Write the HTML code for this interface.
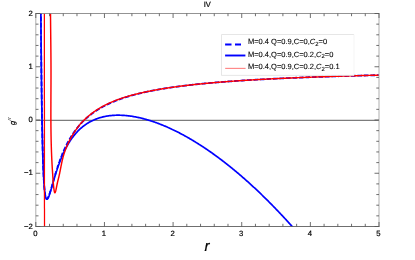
<!DOCTYPE html>
<html><head><meta charset="utf-8"><style>
html,body{margin:0;padding:0;background:#fff;}
svg{display:block;font-family:"Liberation Sans",sans-serif;text-rendering:geometricPrecision;}
</style></head><body>
<svg width="415" height="260" viewBox="0 0 415 260">
<rect width="415" height="260" fill="#fff"/>
<defs><filter id="gs" filterUnits="userSpaceOnUse" x="0" y="0" width="415" height="260" color-interpolation-filters="sRGB"><feOffset dx="0" dy="0"/></filter><clipPath id="c"><rect x="35.8" y="13.5" width="343.2" height="213.0"/></clipPath></defs>
<line x1="35.8" y1="120.3" x2="379.0" y2="120.3" stroke="#484848" stroke-width="0.9"/>
<g clip-path="url(#c)" fill="none" stroke-linejoin="round">
<path d="M40.66,-16.01 L40.72,-7.24 L40.78,1.14 L40.83,9.17 L40.89,16.86 L40.95,24.22 L41.00,31.28 L41.06,38.04 L41.12,44.53 L41.17,50.75 L41.23,56.71 L41.29,62.43 L41.34,67.92 L41.40,73.19 L41.46,78.25 L41.51,83.11 L41.57,87.78 L41.63,92.26 L41.68,96.57 L41.74,100.70 L41.80,104.68 L41.85,108.50 L41.91,112.17 L41.97,115.71 L42.02,119.10 L42.08,122.37 L42.14,125.51 L42.19,128.53 L42.25,131.44 L42.31,134.23 L42.36,136.92 L42.42,139.51 L42.48,142.00 L42.53,144.40 L42.59,146.70 L42.65,148.92 L42.71,151.06 L42.76,153.11 L42.82,155.09 L42.88,157.00 L42.93,158.83 L42.99,160.59 L43.05,162.29 L43.10,163.92 L43.16,165.49 L43.22,167.00 L43.27,168.46 L43.33,169.86 L43.39,171.21 L43.44,172.50 L43.50,173.75 L43.56,174.95 L43.61,176.10 L43.67,177.21 L43.73,178.27 L43.78,179.30 L43.84,180.28 L43.90,181.23 L43.95,182.13 L44.01,183.01 L44.07,183.84 L44.12,184.65 L44.18,185.42 L44.24,186.16 L44.29,186.87 L44.35,187.55 L44.41,188.20 L44.47,188.83 L44.52,189.42 L44.58,190.00 L44.64,190.54 L44.69,191.07 L44.75,191.57 L44.81,192.05 L44.86,192.50 L44.92,192.94 L44.98,193.35 L45.03,193.75 L45.09,194.12 L45.15,194.48 L45.20,194.82 L45.26,195.14 L45.32,195.45 L45.37,195.74 L45.43,196.01 L45.49,196.27 L45.54,196.51 L45.60,196.74 L45.66,196.96 L45.71,197.16 L45.77,197.35 L45.83,197.53 L45.88,197.69 L45.94,197.84 L46.00,197.98 L46.05,198.11 L46.11,198.23 L46.17,198.34 L46.23,198.44 L46.28,198.53 L46.34,198.60 L46.40,198.67 L46.45,198.73 L46.51,198.79 L46.57,198.83 L46.62,198.87 L46.68,198.89 L46.74,198.91 L46.79,198.92 L46.85,198.93 L46.91,198.93 L46.96,198.92 L47.02,198.90 L47.08,198.88 L47.13,198.85 L47.19,198.82 L47.25,198.78 L47.30,198.73 L47.36,198.68 L47.42,198.63 L47.47,198.57 L47.53,198.50 L47.59,198.43 L47.64,198.35 L47.70,198.27 L47.76,198.19 L47.81,198.10 L47.87,198.00 L47.93,197.91 L47.98,197.80 L48.04,197.70 L48.10,197.59 L48.16,197.48 L48.21,197.36 L48.27,197.24 L48.33,197.12 L48.38,197.00 L48.44,196.87 L48.50,196.74 L48.55,196.60 L48.61,196.47 L48.67,196.33 L48.72,196.19 L48.78,196.04 L48.84,195.89 L48.89,195.75 L48.95,195.59 L49.01,195.44 L49.06,195.28 L49.12,195.13 L49.18,194.97 L49.23,194.81 L49.29,194.64 L49.35,194.48 L49.40,194.31 L49.46,194.14 L49.52,193.97 L49.57,193.80 L49.63,193.63 L49.69,193.45 L49.74,193.28 L49.80,193.10 L49.86,192.92 L49.92,192.74 L49.97,192.56 L50.03,192.38 L50.09,192.20 L50.14,192.01 L50.20,191.83 L50.26,191.64 L50.31,191.45 L50.37,191.27 L50.43,191.08 L50.48,190.89 L50.54,190.70 L50.60,190.51 L50.65,190.31 L50.71,190.12 L50.77,189.93 L50.82,189.73 L50.88,189.54 L50.94,189.35 L50.99,189.15 L51.05,188.95 L51.11,188.76 L51.16,188.56 L51.22,188.36 L51.28,188.17 L51.33,187.97 L51.39,187.77 L51.45,187.57 L51.50,187.37 L51.56,187.17 L51.62,186.97 L51.67,186.77 L51.73,186.57 L51.79,186.37 L51.85,186.17 L51.90,185.97 L51.96,185.77 L52.02,185.57 L52.07,185.37 L52.13,185.17 L52.19,184.97 L52.24,184.77 L52.30,184.57 L52.36,184.37 L52.41,184.17 L52.47,183.97 L52.53,183.76 L52.58,183.56 L52.64,183.36 L52.70,183.16 L52.75,182.96 L52.81,182.76 L52.87,182.56 L52.92,182.36 L52.98,182.16 L53.04,181.96 L53.09,181.76 L53.15,181.56 L53.21,181.36 L53.26,181.16 L53.32,180.96 L53.38,180.76 L53.43,180.56 L53.49,180.36 L53.55,180.16 L53.61,179.97 L53.66,179.77 L53.72,179.57 L53.78,179.37 L53.83,179.17 L53.89,178.98 L53.95,178.78 L54.00,178.58 L54.06,178.39 L54.12,178.19 L54.17,177.99 L54.23,177.80 L54.29,177.60 L54.34,177.41 L54.40,177.21 L54.46,177.02 L54.51,176.83 L54.57,176.63 L54.63,176.44 L54.68,176.25 L54.74,176.05 L54.80,175.86 L54.85,175.67 L54.91,175.48 L54.97,175.29 L55.02,175.10 L55.08,174.90 L55.14,174.71 L55.19,174.52 L55.25,174.34 L55.31,174.15 L55.36,173.96 L55.42,173.77 L55.48,173.58 L55.54,173.39 L55.59,173.21 L55.65,173.02 L55.71,172.83 L55.76,172.65 L55.82,172.46 L55.88,172.28 L55.93,172.09 L55.99,171.91 L56.05,171.72 L56.10,171.54 L56.16,171.36 L56.22,171.17 L56.27,170.99 L56.33,170.81 L56.39,170.63 L56.44,170.45 L56.50,170.27 L56.56,170.09 L56.61,169.91 L56.67,169.73 L56.73,169.55 L56.78,169.37 L56.84,169.19 L56.90,169.01 L56.95,168.84 L57.01,168.66 L57.07,168.48 L57.12,168.31 L57.18,168.13 L57.24,167.96 L57.30,167.78 L57.35,167.61 L57.41,167.44 L57.47,167.26 L57.52,167.09 L57.58,166.92 L57.64,166.75 L57.69,166.57 L57.75,166.40 L57.81,166.23 L57.86,166.06 L57.92,165.89 L57.98,165.72 L58.03,165.55 L58.09,165.38 L58.15,165.22 L58.20,165.05 L58.26,164.88 L58.32,164.71 L58.37,164.55 L58.43,164.38 L58.49,164.22 L58.54,164.05 L58.60,163.89 L58.66,163.72 L58.71,163.56 L58.77,163.40 L58.83,163.23 L58.88,163.07 L58.94,162.91 L59.00,162.75 L59.06,162.59 L59.11,162.43 L59.17,162.26 L59.23,162.11 L59.28,161.95 L59.34,161.79 L59.40,161.63 L59.45,161.47 L59.51,161.31 L59.57,161.15 L59.62,161.00 L59.68,160.84 L59.74,160.69 L59.79,160.53 L59.85,160.37 L59.91,160.22 L59.96,160.07 L60.02,159.91 L60.08,159.76 L60.13,159.60 L60.19,159.45 L60.25,159.30 L60.30,159.15 L60.36,159.00 L60.42,158.85 L60.47,158.69 L60.53,158.54 L60.59,158.39 L60.64,158.25 L60.70,158.10 L60.76,157.95 L60.81,157.80 L60.87,157.65 L60.93,157.50 L60.99,157.36 L61.04,157.21 L61.10,157.06 L61.16,156.92 L61.21,156.77 L61.27,156.63 L61.33,156.48 L61.38,156.34 L61.44,156.20 L61.50,156.05 L61.55,155.91 L61.61,155.77 L61.67,155.62 L61.72,155.48 L61.78,155.34 L61.84,155.20 L61.89,155.06 L61.95,154.92 L62.01,154.78 L62.06,154.64 L62.12,154.50 L62.18,154.36 L62.23,154.22 L62.29,154.09 L62.35,153.95 L62.40,153.81 L62.46,153.67 L62.52,153.54 L62.57,153.40 L62.63,153.27 L62.69,153.13 L62.75,153.00 L62.80,152.86 L62.86,152.73 L62.92,152.59 L62.97,152.46 L63.03,152.33 L63.09,152.19 L63.14,152.06 L63.20,151.93 L63.26,151.80 L63.78,150.59 L64.31,149.42 L64.84,148.27 L65.36,147.15 L65.89,146.06 L66.42,145.00 L66.95,143.96 L67.47,142.95 L68.00,141.96 L68.53,141.00 L69.05,140.06 L69.58,139.14 L70.11,138.24 L70.64,137.36 L71.16,136.51 L71.69,135.67 L72.22,134.85 L72.74,134.05 L73.27,133.27 L73.80,132.50 L74.33,131.75 L74.85,131.02 L75.38,130.30 L75.91,129.60 L76.43,128.92 L76.96,128.24 L77.49,127.59 L78.02,126.94 L78.54,126.31 L79.07,125.69 L79.60,125.08 L80.12,124.49 L80.65,123.91 L81.18,123.33 L81.71,122.77 L82.23,122.22 L82.76,121.68 L83.29,121.16 L83.81,120.64 L84.34,120.13 L84.87,119.63 L85.39,119.13 L85.92,118.65 L86.45,118.18 L86.98,117.71 L87.50,117.26 L88.03,116.81 L88.56,116.36 L89.08,115.93 L89.61,115.50 L90.14,115.08 L90.67,114.67 L91.19,114.27 L91.72,113.87 L92.25,113.48 L92.77,113.09 L93.30,112.71 L93.83,112.34 L94.36,111.97 L94.88,111.61 L95.41,111.25 L95.94,110.90 L96.46,110.56 L96.99,110.22 L97.52,109.88 L98.05,109.55 L98.57,109.23 L99.10,108.91 L99.63,108.59 L100.15,108.28 L100.68,107.98 L101.21,107.67 L101.74,107.38 L102.26,107.08 L102.79,106.80 L103.32,106.51 L103.84,106.23 L104.37,105.95 L104.90,105.68 L105.43,105.41 L105.95,105.15 L106.48,104.88 L107.01,104.62 L107.53,104.37 L108.06,104.12 L108.59,103.87 L109.12,103.62 L109.64,103.38 L110.17,103.14 L110.70,102.91 L111.22,102.68 L111.75,102.45 L112.28,102.22 L112.81,102.00 L113.33,101.77 L113.86,101.56 L114.39,101.34 L114.91,101.13 L115.44,100.92 L115.97,100.71 L116.49,100.50 L117.02,100.30 L117.55,100.10 L118.08,99.90 L118.60,99.70 L119.13,99.51 L119.66,99.32 L120.18,99.13 L120.71,98.94 L121.24,98.76 L121.77,98.58 L122.29,98.40 L122.82,98.22 L123.35,98.04 L123.87,97.87 L124.40,97.69 L124.93,97.52 L125.46,97.35 L125.98,97.19 L126.51,97.02 L127.04,96.86 L127.56,96.69 L128.09,96.53 L128.62,96.38 L129.15,96.22 L129.67,96.06 L130.20,95.91 L130.73,95.76 L131.25,95.61 L131.78,95.46 L132.31,95.31 L132.84,95.17 L133.36,95.02 L133.89,94.88 L134.42,94.74 L134.94,94.60 L135.47,94.46 L136.00,94.32 L136.53,94.19 L137.05,94.05 L137.58,93.92 L138.11,93.79 L138.63,93.66 L139.16,93.53 L139.69,93.40 L140.22,93.27 L140.74,93.15 L141.27,93.02 L141.80,92.90 L142.32,92.77 L142.85,92.65 L143.38,92.53 L143.91,92.41 L144.43,92.30 L144.96,92.18 L145.49,92.06 L146.01,91.95 L146.54,91.84 L147.07,91.72 L147.59,91.61 L148.12,91.50 L148.65,91.39 L149.18,91.28 L149.70,91.17 L150.23,91.07 L150.76,90.96 L151.28,90.86 L151.81,90.75 L152.34,90.65 L152.87,90.55 L153.39,90.45 L153.92,90.35 L154.45,90.25 L154.97,90.15 L155.50,90.05 L156.03,89.95 L156.56,89.86 L157.08,89.76 L157.61,89.67 L158.14,89.57 L158.66,89.48 L159.19,89.39 L159.72,89.29 L160.25,89.20 L160.77,89.11 L161.30,89.02 L161.83,88.93 L162.35,88.85 L162.88,88.76 L163.41,88.67 L163.94,88.59 L164.46,88.50 L164.99,88.41 L165.52,88.33 L166.04,88.25 L166.57,88.16 L167.10,88.08 L167.63,88.00 L168.15,87.92 L168.68,87.84 L169.21,87.76 L169.73,87.68 L170.26,87.60 L170.79,87.52 L171.32,87.45 L171.84,87.37 L172.37,87.29 L172.90,87.22 L173.42,87.14 L173.95,87.07 L174.48,86.99 L175.01,86.92 L175.53,86.85 L176.06,86.78 L176.59,86.70 L177.11,86.63 L177.64,86.56 L178.17,86.49 L178.69,86.42 L179.22,86.35 L179.75,86.28 L180.28,86.21 L180.80,86.15 L181.33,86.08 L181.86,86.01 L182.38,85.95 L182.91,85.88 L183.44,85.81 L183.97,85.75 L184.49,85.68 L185.02,85.62 L185.55,85.56 L186.07,85.49 L186.60,85.43 L187.13,85.37 L187.66,85.30 L188.18,85.24 L188.71,85.18 L189.24,85.12 L189.76,85.06 L190.29,85.00 L190.82,84.94 L191.35,84.88 L191.87,84.82 L192.40,84.76 L192.93,84.70 L193.45,84.65 L193.98,84.59 L194.51,84.53 L195.04,84.48 L195.56,84.42 L196.09,84.36 L196.62,84.31 L197.14,84.25 L197.67,84.20 L198.20,84.14 L198.73,84.09 L199.25,84.03 L199.78,83.98 L200.31,83.93 L200.83,83.87 L201.36,83.82 L201.89,83.77 L202.42,83.72 L202.94,83.67 L203.47,83.61 L204.00,83.56 L204.52,83.51 L205.05,83.46 L205.58,83.41 L206.11,83.36 L206.63,83.31 L207.16,83.26 L207.69,83.21 L208.21,83.17 L208.74,83.12 L209.27,83.07 L209.79,83.02 L210.32,82.97 L210.85,82.93 L211.38,82.88 L211.90,82.83 L212.43,82.79 L212.96,82.74 L213.48,82.69 L214.01,82.65 L214.54,82.60 L215.07,82.56 L215.59,82.51 L216.12,82.47 L216.65,82.42 L217.17,82.38 L217.70,82.34 L218.23,82.29 L218.76,82.25 L219.28,82.21 L219.81,82.16 L220.34,82.12 L220.86,82.08 L221.39,82.04 L221.92,81.99 L222.45,81.95 L222.97,81.91 L223.50,81.87 L224.03,81.83 L224.55,81.79 L225.08,81.75 L225.61,81.71 L226.14,81.67 L226.66,81.63 L227.19,81.59 L227.72,81.55 L228.24,81.51 L228.77,81.47 L229.30,81.43 L229.83,81.39 L230.35,81.35 L230.88,81.31 L231.41,81.28 L231.93,81.24 L232.46,81.20 L232.99,81.16 L233.52,81.13 L234.04,81.09 L234.57,81.05 L235.10,81.01 L235.62,80.98 L236.15,80.94 L236.68,80.91 L237.21,80.87 L237.73,80.83 L238.26,80.80 L238.79,80.76 L239.31,80.73 L239.84,80.69 L240.37,80.66 L240.89,80.62 L241.42,80.59 L241.95,80.55 L242.48,80.52 L243.00,80.49 L243.53,80.45 L244.06,80.42 L244.58,80.38 L245.11,80.35 L245.64,80.32 L246.17,80.28 L246.69,80.25 L247.22,80.22 L247.75,80.19 L248.27,80.15 L248.80,80.12 L249.33,80.09 L249.86,80.06 L250.38,80.03 L250.91,79.99 L251.44,79.96 L251.96,79.93 L252.49,79.90 L253.02,79.87 L253.55,79.84 L254.07,79.81 L254.60,79.78 L255.13,79.75 L255.65,79.72 L256.18,79.69 L256.71,79.66 L257.24,79.63 L257.76,79.60 L258.29,79.57 L258.82,79.54 L259.34,79.51 L259.87,79.48 L260.40,79.45 L260.93,79.42 L261.45,79.39 L261.98,79.36 L262.51,79.33 L263.03,79.30 L263.56,79.28 L264.09,79.25 L264.62,79.22 L265.14,79.19 L265.67,79.16 L266.20,79.14 L266.72,79.11 L267.25,79.08 L267.78,79.05 L268.31,79.03 L268.83,79.00 L269.36,78.97 L269.89,78.95 L270.41,78.92 L270.94,78.89 L271.47,78.87 L271.99,78.84 L272.52,78.81 L273.05,78.79 L273.58,78.76 L274.10,78.74 L274.63,78.71 L275.16,78.68 L275.68,78.66 L276.21,78.63 L276.74,78.61 L277.27,78.58 L277.79,78.56 L278.32,78.53 L278.85,78.51 L279.37,78.48 L279.90,78.46 L280.43,78.43 L280.96,78.41 L281.48,78.38 L282.01,78.36 L282.54,78.34 L283.06,78.31 L283.59,78.29 L284.12,78.26 L284.65,78.24 L285.17,78.22 L285.70,78.19 L286.23,78.17 L286.75,78.15 L287.28,78.12 L287.81,78.10 L288.34,78.08 L288.86,78.05 L289.39,78.03 L289.92,78.01 L290.44,77.98 L290.97,77.96 L291.50,77.94 L292.03,77.92 L292.55,77.89 L293.08,77.87 L293.61,77.85 L294.13,77.83 L294.66,77.80 L295.19,77.78 L295.72,77.76 L296.24,77.74 L296.77,77.72 L297.30,77.70 L297.82,77.67 L298.35,77.65 L298.88,77.63 L299.41,77.61 L299.93,77.59 L300.46,77.57 L300.99,77.55 L301.51,77.53 L302.04,77.50 L302.57,77.48 L303.09,77.46 L303.62,77.44 L304.15,77.42 L304.68,77.40 L305.20,77.38 L305.73,77.36 L306.26,77.34 L306.78,77.32 L307.31,77.30 L307.84,77.28 L308.37,77.26 L308.89,77.24 L309.42,77.22 L309.95,77.20 L310.47,77.18 L311.00,77.16 L311.53,77.14 L312.06,77.12 L312.58,77.10 L313.11,77.08 L313.64,77.06 L314.16,77.05 L314.69,77.03 L315.22,77.01 L315.75,76.99 L316.27,76.97 L316.80,76.95 L317.33,76.93 L317.85,76.91 L318.38,76.90 L318.91,76.88 L319.44,76.86 L319.96,76.84 L320.49,76.82 L321.02,76.80 L321.54,76.79 L322.07,76.77 L322.60,76.75 L323.13,76.73 L323.65,76.71 L324.18,76.70 L324.71,76.68 L325.23,76.66 L325.76,76.64 L326.29,76.62 L326.82,76.61 L327.34,76.59 L327.87,76.57 L328.40,76.55 L328.92,76.54 L329.45,76.52 L329.98,76.50 L330.51,76.49 L331.03,76.47 L331.56,76.45 L332.09,76.43 L332.61,76.42 L333.14,76.40 L333.67,76.38 L334.19,76.37 L334.72,76.35 L335.25,76.33 L335.78,76.32 L336.30,76.30 L336.83,76.29 L337.36,76.27 L337.88,76.25 L338.41,76.24 L338.94,76.22 L339.47,76.20 L339.99,76.19 L340.52,76.17 L341.05,76.16 L341.57,76.14 L342.10,76.12 L342.63,76.11 L343.16,76.09 L343.68,76.08 L344.21,76.06 L344.74,76.05 L345.26,76.03 L345.79,76.01 L346.32,76.00 L346.85,75.98 L347.37,75.97 L347.90,75.95 L348.43,75.94 L348.95,75.92 L349.48,75.91 L350.01,75.89 L350.54,75.88 L351.06,75.86 L351.59,75.85 L352.12,75.83 L352.64,75.82 L353.17,75.80 L353.70,75.79 L354.23,75.77 L354.75,75.76 L355.28,75.74 L355.81,75.73 L356.33,75.72 L356.86,75.70 L357.39,75.69 L357.92,75.67 L358.44,75.66 L358.97,75.64 L359.50,75.63 L360.02,75.61 L360.55,75.60 L361.08,75.59 L361.61,75.57 L362.13,75.56 L362.66,75.54 L363.19,75.53 L363.71,75.52 L364.24,75.50 L364.77,75.49 L365.29,75.48 L365.82,75.46 L366.35,75.45 L366.88,75.43 L367.40,75.42 L367.93,75.41 L368.46,75.39 L368.98,75.38 L369.51,75.37 L370.04,75.35 L370.57,75.34 L371.09,75.33 L371.62,75.31 L372.15,75.30 L372.67,75.29 L373.20,75.27 L373.73,75.26 L374.26,75.25 L374.78,75.24 L375.31,75.22 L375.84,75.21 L376.36,75.20 L376.89,75.18 L377.42,75.17 L377.95,75.16 L378.47,75.15 L379.00,75.13" stroke="#0000ff" stroke-width="1.8" stroke-dasharray="4.6 1.9"/>
<path d="M40.66,-15.95 L40.72,-7.19 L40.78,1.20 L40.83,9.23 L40.89,16.92 L40.95,24.28 L41.00,31.34 L41.06,38.11 L41.12,44.59 L41.17,50.81 L41.23,56.78 L41.29,62.50 L41.34,67.99 L41.40,73.27 L41.46,78.33 L41.51,83.19 L41.57,87.85 L41.63,92.34 L41.68,96.64 L41.74,100.78 L41.80,104.76 L41.85,108.58 L41.91,112.26 L41.97,115.79 L42.02,119.19 L42.08,122.46 L42.14,125.60 L42.19,128.62 L42.25,131.53 L42.31,134.33 L42.36,137.02 L42.42,139.61 L42.48,142.10 L42.53,144.50 L42.59,146.81 L42.65,149.03 L42.71,151.17 L42.76,153.22 L42.82,155.20 L42.88,157.11 L42.93,158.94 L42.99,160.71 L43.05,162.41 L43.10,164.04 L43.16,165.61 L43.22,167.13 L43.27,168.59 L43.33,169.99 L43.39,171.34 L43.44,172.63 L43.50,173.88 L43.56,175.08 L43.61,176.24 L43.67,177.35 L43.73,178.41 L43.78,179.44 L43.84,180.43 L43.90,181.37 L43.95,182.28 L44.01,183.16 L44.07,184.00 L44.12,184.80 L44.18,185.58 L44.24,186.32 L44.29,187.03 L44.35,187.71 L44.41,188.37 L44.47,188.99 L44.52,189.60 L44.58,190.17 L44.64,190.72 L44.69,191.25 L44.75,191.75 L44.81,192.23 L44.86,192.69 L44.92,193.13 L44.98,193.54 L45.03,193.94 L45.09,194.32 L45.15,194.68 L45.20,195.02 L45.26,195.35 L45.32,195.65 L45.37,195.95 L45.43,196.22 L45.49,196.48 L45.54,196.73 L45.60,196.96 L45.66,197.18 L45.71,197.38 L45.77,197.57 L45.83,197.75 L45.88,197.92 L45.94,198.07 L46.00,198.22 L46.05,198.35 L46.11,198.47 L46.17,198.58 L46.23,198.68 L46.28,198.77 L46.34,198.86 L46.40,198.93 L46.45,198.99 L46.51,199.05 L46.57,199.09 L46.62,199.13 L46.68,199.16 L46.74,199.18 L46.79,199.20 L46.85,199.21 L46.91,199.21 L46.96,199.20 L47.02,199.19 L47.08,199.17 L47.13,199.14 L47.19,199.11 L47.25,199.08 L47.30,199.03 L47.36,198.98 L47.42,198.93 L47.47,198.87 L47.53,198.81 L47.59,198.74 L47.64,198.67 L47.70,198.59 L47.76,198.51 L47.81,198.42 L47.87,198.33 L47.93,198.24 L47.98,198.14 L48.04,198.04 L48.10,197.93 L48.16,197.82 L48.21,197.71 L48.27,197.60 L48.33,197.48 L48.38,197.36 L48.44,197.23 L48.50,197.10 L48.55,196.97 L48.61,196.84 L48.67,196.70 L48.72,196.56 L48.78,196.42 L48.84,196.28 L48.89,196.13 L48.95,195.98 L49.01,195.83 L49.06,195.68 L49.12,195.53 L49.18,195.37 L49.23,195.21 L49.29,195.05 L49.35,194.89 L49.40,194.73 L49.46,194.56 L49.52,194.40 L49.57,194.23 L49.63,194.06 L49.69,193.89 L49.74,193.72 L49.80,193.54 L49.86,193.37 L49.92,193.19 L49.97,193.01 L50.03,192.84 L50.09,192.66 L50.14,192.48 L50.20,192.29 L50.26,192.11 L50.31,191.93 L50.37,191.74 L50.43,191.56 L50.48,191.37 L50.54,191.19 L50.60,191.00 L50.65,190.81 L50.71,190.62 L50.77,190.43 L50.82,190.24 L50.88,190.05 L50.94,189.86 L50.99,189.67 L51.05,189.48 L51.11,189.29 L51.16,189.09 L51.22,188.90 L51.28,188.71 L51.33,188.51 L51.39,188.32 L51.45,188.13 L51.50,187.93 L51.56,187.74 L51.62,187.54 L51.67,187.34 L51.73,187.15 L51.79,186.95 L51.85,186.76 L51.90,186.56 L51.96,186.36 L52.02,186.17 L52.07,185.97 L52.13,185.77 L52.19,185.58 L52.24,185.38 L52.30,185.18 L52.36,184.99 L52.41,184.79 L52.47,184.59 L52.53,184.40 L52.58,184.20 L52.64,184.00 L52.70,183.81 L52.75,183.61 L52.81,183.41 L52.87,183.22 L52.92,183.02 L52.98,182.83 L53.04,182.63 L53.09,182.43 L53.15,182.24 L53.21,182.04 L53.26,181.85 L53.32,181.65 L53.38,181.46 L53.43,181.26 L53.49,181.07 L53.55,180.88 L53.61,180.68 L53.66,180.49 L53.72,180.30 L53.78,180.10 L53.83,179.91 L53.89,179.72 L53.95,179.52 L54.00,179.33 L54.06,179.14 L54.12,178.95 L54.17,178.76 L54.23,178.57 L54.29,178.38 L54.34,178.19 L54.40,178.00 L54.46,177.81 L54.51,177.62 L54.57,177.43 L54.63,177.24 L54.68,177.05 L54.74,176.86 L54.80,176.68 L54.85,176.49 L54.91,176.30 L54.97,176.12 L55.02,175.93 L55.08,175.75 L55.14,175.56 L55.19,175.37 L55.25,175.19 L55.31,175.01 L55.36,174.82 L55.42,174.64 L55.48,174.46 L55.54,174.27 L55.59,174.09 L55.65,173.91 L55.71,173.73 L55.76,173.55 L55.82,173.37 L55.88,173.19 L55.93,173.01 L55.99,172.83 L56.05,172.65 L56.10,172.47 L56.16,172.29 L56.22,172.12 L56.27,171.94 L56.33,171.76 L56.39,171.59 L56.44,171.41 L56.50,171.24 L56.56,171.06 L56.61,170.89 L56.67,170.71 L56.73,170.54 L56.78,170.37 L56.84,170.19 L56.90,170.02 L56.95,169.85 L57.01,169.68 L57.07,169.51 L57.12,169.34 L57.18,169.17 L57.24,169.00 L57.30,168.83 L57.35,168.66 L57.41,168.49 L57.47,168.32 L57.52,168.16 L57.58,167.99 L57.64,167.82 L57.69,167.66 L57.75,167.49 L57.81,167.33 L57.86,167.16 L57.92,167.00 L57.98,166.83 L58.03,166.67 L58.09,166.51 L58.15,166.35 L58.20,166.18 L58.26,166.02 L58.32,165.86 L58.37,165.70 L58.43,165.54 L58.49,165.38 L58.54,165.22 L58.60,165.06 L58.66,164.90 L58.71,164.75 L58.77,164.59 L58.83,164.43 L58.88,164.28 L58.94,164.12 L59.00,163.96 L59.06,163.81 L59.11,163.65 L59.17,163.50 L59.23,163.35 L59.28,163.19 L59.34,163.04 L59.40,162.89 L59.45,162.73 L59.51,162.58 L59.57,162.43 L59.62,162.28 L59.68,162.13 L59.74,161.98 L59.79,161.83 L59.85,161.68 L59.91,161.53 L59.96,161.39 L60.02,161.24 L60.08,161.09 L60.13,160.94 L60.19,160.80 L60.25,160.65 L60.30,160.51 L60.36,160.36 L60.42,160.22 L60.47,160.07 L60.53,159.93 L60.59,159.78 L60.64,159.64 L60.70,159.50 L60.76,159.36 L60.81,159.21 L60.87,159.07 L60.93,158.93 L60.99,158.79 L61.04,158.65 L61.10,158.51 L61.16,158.37 L61.21,158.23 L61.27,158.09 L61.33,157.96 L61.38,157.82 L61.44,157.68 L61.50,157.55 L61.55,157.41 L61.61,157.27 L61.67,157.14 L61.72,157.00 L61.78,156.87 L61.84,156.73 L61.89,156.60 L61.95,156.47 L62.01,156.33 L62.06,156.20 L62.12,156.07 L62.18,155.94 L62.23,155.80 L62.29,155.67 L62.35,155.54 L62.40,155.41 L62.46,155.28 L62.52,155.15 L62.57,155.02 L62.63,154.89 L62.69,154.77 L62.75,154.64 L62.80,154.51 L62.86,154.38 L62.92,154.26 L62.97,154.13 L63.03,154.00 L63.09,153.88 L63.14,153.75 L63.20,153.63 L63.26,153.50 L63.78,152.36 L64.31,151.25 L64.84,150.18 L65.36,149.13 L65.89,148.11 L66.42,147.12 L66.95,146.16 L67.47,145.22 L68.00,144.31 L68.53,143.42 L69.05,142.56 L69.58,141.72 L70.11,140.90 L70.64,140.11 L71.16,139.33 L71.69,138.58 L72.22,137.85 L72.74,137.14 L73.27,136.44 L73.80,135.77 L74.33,135.11 L74.85,134.47 L75.38,133.85 L75.91,133.24 L76.43,132.65 L76.96,132.07 L77.49,131.51 L78.02,130.97 L78.54,130.44 L79.07,129.92 L79.60,129.42 L80.12,128.93 L80.65,128.45 L81.18,127.99 L81.71,127.54 L82.23,127.10 L82.76,126.67 L83.29,126.25 L83.81,125.85 L84.34,125.45 L84.87,125.07 L85.39,124.69 L85.92,124.33 L86.45,123.98 L86.98,123.63 L87.50,123.30 L88.03,122.97 L88.56,122.66 L89.08,122.35 L89.61,122.05 L90.14,121.76 L90.67,121.48 L91.19,121.20 L91.72,120.94 L92.25,120.68 L92.77,120.43 L93.30,120.18 L93.83,119.95 L94.36,119.72 L94.88,119.50 L95.41,119.28 L95.94,119.08 L96.46,118.88 L96.99,118.68 L97.52,118.49 L98.05,118.31 L98.57,118.13 L99.10,117.97 L99.63,117.80 L100.15,117.64 L100.68,117.49 L101.21,117.35 L101.74,117.20 L102.26,117.07 L102.79,116.94 L103.32,116.82 L103.84,116.70 L104.37,116.58 L104.90,116.47 L105.43,116.37 L105.95,116.27 L106.48,116.18 L107.01,116.09 L107.53,116.00 L108.06,115.92 L108.59,115.85 L109.12,115.78 L109.64,115.71 L110.17,115.65 L110.70,115.59 L111.22,115.53 L111.75,115.49 L112.28,115.44 L112.81,115.40 L113.33,115.36 L113.86,115.33 L114.39,115.30 L114.91,115.27 L115.44,115.25 L115.97,115.24 L116.49,115.22 L117.02,115.21 L117.55,115.21 L118.08,115.20 L118.60,115.20 L119.13,115.21 L119.66,115.22 L120.18,115.23 L120.71,115.24 L121.24,115.26 L121.77,115.28 L122.29,115.31 L122.82,115.33 L123.35,115.37 L123.87,115.40 L124.40,115.44 L124.93,115.48 L125.46,115.52 L125.98,115.57 L126.51,115.62 L127.04,115.67 L127.56,115.73 L128.09,115.79 L128.62,115.85 L129.15,115.92 L129.67,115.98 L130.20,116.05 L130.73,116.13 L131.25,116.20 L131.78,116.28 L132.31,116.37 L132.84,116.45 L133.36,116.54 L133.89,116.63 L134.42,116.72 L134.94,116.82 L135.47,116.92 L136.00,117.02 L136.53,117.12 L137.05,117.23 L137.58,117.33 L138.11,117.45 L138.63,117.56 L139.16,117.68 L139.69,117.79 L140.22,117.92 L140.74,118.04 L141.27,118.17 L141.80,118.29 L142.32,118.42 L142.85,118.56 L143.38,118.69 L143.91,118.83 L144.43,118.97 L144.96,119.11 L145.49,119.26 L146.01,119.41 L146.54,119.56 L147.07,119.71 L147.59,119.86 L148.12,120.02 L148.65,120.18 L149.18,120.34 L149.70,120.50 L150.23,120.67 L150.76,120.83 L151.28,121.00 L151.81,121.18 L152.34,121.35 L152.87,121.53 L153.39,121.70 L153.92,121.88 L154.45,122.07 L154.97,122.25 L155.50,122.44 L156.03,122.63 L156.56,122.82 L157.08,123.01 L157.61,123.21 L158.14,123.40 L158.66,123.60 L159.19,123.80 L159.72,124.00 L160.25,124.21 L160.77,124.42 L161.30,124.63 L161.83,124.84 L162.35,125.05 L162.88,125.26 L163.41,125.48 L163.94,125.70 L164.46,125.92 L164.99,126.14 L165.52,126.37 L166.04,126.59 L166.57,126.82 L167.10,127.05 L167.63,127.28 L168.15,127.52 L168.68,127.75 L169.21,127.99 L169.73,128.23 L170.26,128.47 L170.79,128.71 L171.32,128.96 L171.84,129.21 L172.37,129.45 L172.90,129.70 L173.42,129.96 L173.95,130.21 L174.48,130.47 L175.01,130.72 L175.53,130.98 L176.06,131.24 L176.59,131.51 L177.11,131.77 L177.64,132.04 L178.17,132.31 L178.69,132.58 L179.22,132.85 L179.75,133.12 L180.28,133.40 L180.80,133.67 L181.33,133.95 L181.86,134.23 L182.38,134.52 L182.91,134.80 L183.44,135.09 L183.97,135.37 L184.49,135.66 L185.02,135.95 L185.55,136.24 L186.07,136.54 L186.60,136.83 L187.13,137.13 L187.66,137.43 L188.18,137.73 L188.71,138.03 L189.24,138.34 L189.76,138.64 L190.29,138.95 L190.82,139.26 L191.35,139.57 L191.87,139.88 L192.40,140.20 L192.93,140.51 L193.45,140.83 L193.98,141.15 L194.51,141.47 L195.04,141.79 L195.56,142.12 L196.09,142.44 L196.62,142.77 L197.14,143.10 L197.67,143.43 L198.20,143.76 L198.73,144.09 L199.25,144.43 L199.78,144.76 L200.31,145.10 L200.83,145.44 L201.36,145.78 L201.89,146.12 L202.42,146.47 L202.94,146.81 L203.47,147.16 L204.00,147.51 L204.52,147.86 L205.05,148.21 L205.58,148.57 L206.11,148.92 L206.63,149.28 L207.16,149.64 L207.69,150.00 L208.21,150.36 L208.74,150.72 L209.27,151.09 L209.79,151.45 L210.32,151.82 L210.85,152.19 L211.38,152.56 L211.90,152.93 L212.43,153.31 L212.96,153.68 L213.48,154.06 L214.01,154.44 L214.54,154.82 L215.07,155.20 L215.59,155.58 L216.12,155.97 L216.65,156.35 L217.17,156.74 L217.70,157.13 L218.23,157.52 L218.76,157.91 L219.28,158.31 L219.81,158.70 L220.34,159.10 L220.86,159.50 L221.39,159.90 L221.92,160.30 L222.45,160.70 L222.97,161.10 L223.50,161.51 L224.03,161.91 L224.55,162.32 L225.08,162.73 L225.61,163.14 L226.14,163.56 L226.66,163.97 L227.19,164.39 L227.72,164.80 L228.24,165.22 L228.77,165.64 L229.30,166.06 L229.83,166.49 L230.35,166.91 L230.88,167.34 L231.41,167.77 L231.93,168.19 L232.46,168.62 L232.99,169.06 L233.52,169.49 L234.04,169.92 L234.57,170.36 L235.10,170.80 L235.62,171.24 L236.15,171.68 L236.68,172.12 L237.21,172.56 L237.73,173.01 L238.26,173.45 L238.79,173.90 L239.31,174.35 L239.84,174.80 L240.37,175.25 L240.89,175.71 L241.42,176.16 L241.95,176.62 L242.48,177.07 L243.00,177.53 L243.53,177.99 L244.06,178.46 L244.58,178.92 L245.11,179.38 L245.64,179.85 L246.17,180.32 L246.69,180.79 L247.22,181.26 L247.75,181.73 L248.27,182.20 L248.80,182.68 L249.33,183.15 L249.86,183.63 L250.38,184.11 L250.91,184.59 L251.44,185.07 L251.96,185.56 L252.49,186.04 L253.02,186.53 L253.55,187.01 L254.07,187.50 L254.60,187.99 L255.13,188.48 L255.65,188.98 L256.18,189.47 L256.71,189.97 L257.24,190.46 L257.76,190.96 L258.29,191.46 L258.82,191.96 L259.34,192.47 L259.87,192.97 L260.40,193.48 L260.93,193.98 L261.45,194.49 L261.98,195.00 L262.51,195.51 L263.03,196.02 L263.56,196.54 L264.09,197.05 L264.62,197.57 L265.14,198.09 L265.67,198.61 L266.20,199.13 L266.72,199.65 L267.25,200.17 L267.78,200.70 L268.31,201.22 L268.83,201.75 L269.36,202.28 L269.89,202.81 L270.41,203.34 L270.94,203.88 L271.47,204.41 L271.99,204.95 L272.52,205.48 L273.05,206.02 L273.58,206.56 L274.10,207.10 L274.63,207.65 L275.16,208.19 L275.68,208.74 L276.21,209.28 L276.74,209.83 L277.27,210.38 L277.79,210.93 L278.32,211.48 L278.85,212.04 L279.37,212.59 L279.90,213.15 L280.43,213.71 L280.96,214.26 L281.48,214.83 L282.01,215.39 L282.54,215.95 L283.06,216.51 L283.59,217.08 L284.12,217.65 L284.65,218.22 L285.17,218.79 L285.70,219.36 L286.23,219.93 L286.75,220.50 L287.28,221.08 L287.81,221.66 L288.34,222.23 L288.86,222.81 L289.39,223.39 L289.92,223.98 L290.44,224.56 L290.97,225.14 L291.50,225.73 L292.03,226.32 L292.55,226.91 L293.08,227.50 L293.61,228.09 L294.13,228.68 L294.66,229.28 L295.19,229.87 L295.72,230.47 L296.24,231.07 L296.77,231.67 L297.30,232.27 L297.82,232.87 L298.35,233.47 L298.88,234.08 L299.41,234.68 L299.93,235.29 L300.46,235.90 L300.99,236.51 L301.51,237.12 L302.04,237.73 L302.57,238.35 L303.09,238.96 L303.62,239.58 L304.15,240.20 L304.68,240.82 L305.20,241.44 L305.73,242.06 L306.26,242.69 L306.78,243.31 L307.31,243.94 L307.84,244.57 L308.37,245.19 L308.89,245.82 L309.42,246.46 L309.95,247.09 L310.47,247.72 L311.00,248.36 L311.53,249.00 L312.06,249.63 L312.58,250.27 L313.11,250.91 L313.64,251.56 L314.16,252.20 L314.69,252.85 L315.22,253.49 L315.75,254.14 L316.27,254.79 L316.80,255.44 L317.33,256.09 L317.85,256.74 L318.38,257.40 L318.91,258.05 L319.44,258.71 L319.96,259.37 L320.49,260.03 L321.02,260.69 L321.54,261.35 L322.07,262.01 L322.60,262.68 L323.13,263.34 L323.65,264.01 L324.18,264.68 L324.71,265.35 L325.23,266.02 L325.76,266.69 L326.29,267.37 L326.82,268.04 L327.34,268.72 L327.87,269.40 L328.40,270.08 L328.92,270.76 L329.45,271.44 L329.98,272.12 L330.51,272.81 L331.03,273.49 L331.56,274.18 L332.09,274.87 L332.61,275.56 L333.14,276.25 L333.67,276.94 L334.19,277.64 L334.72,278.33 L335.25,279.03 L335.78,279.73" stroke="#0000ff" stroke-width="1.7"/>
<path d="M44.35,0 L44.5,240" stroke="#ff0000" stroke-width="1.25"/>
<path d="M50.45,5.00 L50.45,5.66 L50.46,6.33 L50.46,6.99 L50.46,7.66 L50.47,8.32 L50.47,8.98 L50.48,9.65 L50.48,10.31 L50.49,10.98 L50.49,11.64 L50.49,12.31 L50.50,12.97 L50.50,13.64 L50.51,14.30 L50.52,14.97 L50.52,15.63 L50.53,16.30 L50.53,16.96 L50.54,17.63 L50.54,18.29 L50.55,18.96 L50.56,19.62 L50.56,20.29 L50.57,20.95 L50.58,21.62 L50.58,22.28 L50.59,22.95 L50.60,23.61 L50.60,24.28 L50.61,24.94 L50.62,25.61 L50.62,26.27 L50.63,26.94 L50.64,27.61 L50.65,28.27 L50.65,28.94 L50.66,29.60 L50.67,30.27 L50.67,30.93 L50.68,31.60 L50.69,32.26 L50.70,32.93 L50.70,33.59 L50.71,34.26 L50.72,34.93 L50.73,35.59 L50.73,36.26 L50.74,36.92 L50.75,37.59 L50.76,38.25 L50.76,38.92 L50.77,39.58 L50.78,40.25 L50.78,40.91 L50.79,41.58 L50.80,42.24 L50.81,42.91 L50.81,43.57 L50.82,44.24 L50.83,44.90 L50.83,45.57 L50.84,46.23 L50.85,46.90 L50.85,47.56 L50.86,48.23 L50.87,48.89 L50.87,49.56 L50.88,50.22 L50.88,50.88 L50.89,51.55 L50.90,52.21 L50.90,52.88 L50.91,53.54 L50.91,54.20 L50.92,54.87 L50.92,55.53 L50.93,56.20 L50.93,56.86 L50.94,57.52 L50.94,58.19 L50.95,58.85 L50.95,59.51 L50.96,60.17 L50.96,60.84 L50.97,61.50 L50.97,62.16 L50.97,62.83 L50.98,63.49 L50.98,64.15 L50.98,64.81 L50.98,65.47 L50.99,66.14 L50.99,66.80 L50.99,67.46 L50.99,68.12 L51.00,68.78 L51.00,69.44 L51.00,70.10 L51.00,70.76 L51.00,71.43 L51.00,72.09 L51.00,72.75 L51.00,73.41 L51.00,74.07 L51.00,74.73 L51.00,75.39 L51.00,76.05 L51.00,76.71 L51.00,77.37 L51.00,78.03 L51.00,78.68 L50.99,79.34 L50.99,80.00 L50.99,80.66 L50.99,81.32 L50.99,81.98 L50.98,82.64 L50.98,83.30 L50.98,83.96 L50.98,84.61 L50.97,85.27 L50.97,85.93 L50.97,86.59 L50.97,87.25 L50.96,87.91 L50.96,88.56 L50.96,89.22 L50.95,89.88 L50.95,90.54 L50.95,91.20 L50.95,91.85 L50.94,92.51 L50.94,93.17 L50.94,93.83 L50.93,94.48 L50.93,95.14 L50.93,95.80 L50.92,96.46 L50.92,97.12 L50.92,97.77 L50.92,98.43 L50.91,99.09 L50.91,99.75 L50.91,100.41 L50.90,101.06 L50.90,101.72 L50.90,102.38 L50.90,103.04 L50.89,103.70 L50.89,104.35 L50.89,105.01 L50.89,105.67 L50.89,106.33 L50.89,106.99 L50.88,107.65 L50.88,108.30 L50.88,108.96 L50.88,109.62 L50.88,110.28 L50.88,110.94 L50.88,111.60 L50.88,112.26 L50.88,112.92 L50.88,113.57 L50.88,114.23 L50.88,114.89 L50.88,115.55 L50.88,116.21 L50.88,116.87 L50.88,117.53 L50.89,118.19 L50.89,118.85 L50.89,119.51 L50.89,120.17 L50.90,120.83 L50.90,121.49 L50.90,122.16 L50.91,122.82 L50.91,123.48 L50.92,124.14 L50.92,124.80 L50.93,125.46 L50.93,126.12 L50.94,126.79 L50.94,127.45 L50.95,128.11 L50.96,128.77 L50.97,129.44 L50.97,130.10 L50.98,130.76 L50.99,131.43 L51.00,132.09 L51.01,132.75 L51.02,133.42 L51.03,134.08 L51.04,134.75 L51.05,135.41 L51.06,136.08 L51.07,136.74 L51.09,137.41 L51.10,138.07 L51.11,138.74 L51.13,139.41 L51.14,140.07 L51.16,140.74 L51.17,141.41 L51.19,142.08 L51.21,142.74 L51.22,143.41 L51.24,144.08 L51.26,144.75 L51.28,145.42 L51.30,146.09 L51.32,146.76 L51.34,147.43 L51.36,148.10 L51.38,148.77 L51.40,149.44 L51.43,150.11 L51.45,150.78 L51.47,151.45 L51.50,152.12 L51.52,152.80 L51.55,153.47 L51.58,154.14 L51.60,154.81 L51.63,155.49 L51.66,156.16 L51.69,156.84 L51.72,157.51 L51.75,158.19 L51.78,158.86 L51.81,159.54 L51.85,160.22 L51.88,160.89 L51.91,161.57 L51.95,162.25 L51.98,162.92 L52.02,163.60 L52.06,164.28 L52.10,164.96 L52.13,165.64 L52.17,166.32 L52.21,167.00 L52.25,167.68 L52.30,168.36 L52.34,169.05 L52.38,169.73 L52.43,170.41 L52.47,171.09 L52.52,171.77 L52.56,172.45 L52.61,173.12 L52.65,173.78 L52.70,174.44 L52.74,175.08 L52.78,175.72 L52.82,176.34 L52.86,176.95 L52.90,177.55 L52.94,178.15 L52.98,178.75 L53.02,179.35 L53.06,179.97 L53.11,180.60 L53.16,181.25 L53.21,181.92 L53.27,182.62 L53.33,183.35 L53.40,184.11 L53.47,184.92 L53.56,185.76 L53.65,186.64 L53.74,187.54 L53.85,188.42 L53.96,189.28 L54.07,190.09 L54.20,190.83 L54.33,191.48 L54.46,192.02 L54.60,192.44 L54.75,192.70 L54.90,192.80 L55.06,192.71 L55.22,192.46 L55.39,192.06 L55.56,191.53 L55.73,190.89 L55.90,190.16 L56.07,189.36 L56.25,188.52 L56.42,187.64 L56.59,186.76 L56.76,185.88 L56.93,185.04 L57.10,184.24 L57.26,183.48 L57.42,182.76 L57.58,182.07 L57.73,181.41 L57.89,180.77 L58.04,180.15 L58.19,179.55 L58.33,178.96 L58.48,178.37 L58.62,177.79 L58.76,177.21 L58.91,176.62 L59.05,176.02 L59.19,175.40 L59.32,174.77 L59.46,174.13 L59.60,173.49 L59.74,172.83 L59.87,172.17 L60.00,171.50 L60.14,170.84 L60.27,170.17 L60.40,169.50 L60.53,168.84 L60.65,168.18 L60.78,167.52 L60.91,166.86 L61.04,166.20 L61.17,165.55 L61.30,164.90 L61.43,164.24 L61.56,163.59 L61.69,162.95 L61.83,162.30 L61.97,161.65 L62.11,161.01 L62.26,160.37 L62.41,159.73 L62.56,159.09 L62.72,158.45 L62.88,157.81 L63.05,157.17 L63.22,156.53 L63.40,155.90 L63.59,155.26 L63.78,154.63 L63.97,153.99 L64.17,153.36 L64.38,152.73 L64.59,152.10 L64.81,151.47 L65.03,150.84 L65.26,150.22 L65.49,149.59 L65.73,148.97 L65.97,148.35 L66.22,147.73 L66.47,147.11 L66.73,146.50 L66.99,145.88 L67.26,145.27 L67.53,144.66 L67.80,144.06 L68.08,143.45 L68.37,142.85 L68.66,142.25 L68.96,141.66 L69.26,141.06 L69.56,140.47 L69.87,139.88 L70.18,139.29 L70.50,138.71 L70.82,138.13 L71.14,137.55 L71.47,136.97 L71.81,136.39 L72.14,135.82 L72.48,135.25 L72.83,134.68 L73.18,134.11 L73.53,133.55 L73.88,132.99 L74.24,132.43 L74.61,131.87 L74.97,131.32 L75.34,130.76 L75.71,130.21 L76.09,129.66 L76.47,129.12 L76.85,128.57 L77.23,128.03 L77.62,127.49 L78.02,126.95 L78.41,126.42 L78.82,125.89 L79.23,125.37 L79.64,124.85 L80.06,124.34 L80.50,123.83 L80.94,123.33 L81.38,122.84 L81.84,122.36 L82.30,121.88 L82.89,121.26 L83.49,120.66 L84.09,120.07 L84.68,119.49 L85.28,118.93 L85.88,118.37 L86.48,117.83 L87.07,117.30 L87.67,116.78 L88.27,116.27 L88.86,115.77 L89.46,115.27 L90.06,114.79 L90.65,114.32 L91.25,113.86 L91.85,113.40 L92.45,112.95 L93.04,112.52 L93.64,112.09 L94.24,111.66 L94.83,111.25 L95.43,110.84 L96.03,110.44 L96.62,110.05 L97.22,109.66 L97.82,109.28 L98.42,108.91 L99.01,108.55 L99.61,108.19 L100.21,107.83 L100.80,107.49 L101.40,107.14 L102.00,106.81 L102.59,106.48 L103.19,106.15 L103.79,105.83 L104.38,105.52 L104.98,105.21 L105.58,104.91 L106.18,104.61 L106.77,104.32 L107.37,104.03 L107.97,103.74 L108.56,103.46 L109.16,103.19 L109.76,102.91 L110.35,102.65 L110.95,102.38 L111.55,102.13 L112.15,101.87 L112.74,101.62 L113.34,101.37 L113.94,101.13 L114.53,100.89 L115.13,100.65 L115.73,100.42 L116.32,100.19 L116.92,99.96 L117.52,99.74 L118.12,99.52 L118.71,99.31 L119.31,99.09 L119.91,98.88 L120.50,98.67 L121.10,98.47 L121.70,98.27 L122.29,98.07 L122.89,97.87 L123.49,97.68 L124.09,97.49 L124.68,97.30 L125.28,97.11 L125.88,96.93 L126.47,96.75 L127.07,96.57 L127.67,96.39 L128.26,96.22 L128.86,96.05 L129.46,95.88 L130.06,95.71 L130.65,95.54 L131.25,95.38 L131.85,95.22 L132.44,95.06 L133.04,94.90 L133.64,94.74 L134.23,94.59 L134.83,94.43 L135.43,94.28 L136.03,94.13 L136.62,93.98 L137.22,93.84 L137.82,93.69 L138.41,93.55 L139.01,93.41 L139.61,93.27 L140.20,93.13 L140.80,92.99 L141.40,92.86 L142.00,92.72 L142.59,92.59 L143.19,92.46 L143.79,92.33 L144.38,92.20 L144.98,92.07 L145.58,91.94 L146.17,91.82 L146.77,91.69 L147.37,91.57 L147.97,91.45 L148.56,91.33 L149.16,91.21 L149.76,91.09 L150.35,90.97 L150.95,90.86 L151.55,90.74 L152.14,90.63 L152.74,90.51 L153.34,90.40 L153.94,90.29 L154.53,90.18 L155.13,90.07 L155.73,89.96 L156.32,89.85 L156.92,89.75 L157.52,89.64 L158.11,89.54 L158.71,89.43 L159.31,89.33 L159.90,89.23 L160.50,89.13 L161.10,89.03 L161.70,88.93 L162.29,88.83 L162.89,88.73 L163.49,88.64 L164.08,88.54 L164.68,88.44 L165.28,88.35 L165.87,88.26 L166.47,88.16 L167.07,88.07 L167.67,87.98 L168.26,87.89 L168.86,87.80 L169.46,87.71 L170.05,87.62 L170.65,87.53 L171.25,87.45 L171.84,87.36 L172.44,87.27 L173.04,87.19 L173.64,87.11 L174.23,87.02 L174.83,86.94 L175.43,86.86 L176.02,86.77 L176.62,86.69 L177.22,86.61 L177.81,86.53 L178.41,86.45 L179.01,86.38 L179.61,86.30 L180.20,86.22 L180.80,86.14 L181.40,86.07 L181.99,85.99 L182.59,85.92 L183.19,85.84 L183.78,85.77 L184.38,85.70 L184.98,85.62 L185.58,85.55 L186.17,85.48 L186.77,85.41 L187.37,85.34 L187.96,85.27 L188.56,85.20 L189.16,85.13 L189.75,85.06 L190.35,84.99 L190.95,84.92 L191.55,84.86 L192.14,84.79 L192.74,84.72 L193.34,84.66 L193.93,84.59 L194.53,84.53 L195.13,84.47 L195.72,84.40 L196.32,84.34 L196.92,84.28 L197.52,84.21 L198.11,84.15 L198.71,84.09 L199.31,84.03 L199.90,83.97 L200.50,83.91 L201.10,83.85 L201.69,83.79 L202.29,83.73 L202.89,83.67 L203.49,83.61 L204.08,83.55 L204.68,83.50 L205.28,83.44 L205.87,83.38 L206.47,83.33 L207.07,83.27 L207.66,83.22 L208.26,83.16 L208.86,83.11 L209.46,83.05 L210.05,83.00 L210.65,82.94 L211.25,82.89 L211.84,82.84 L212.44,82.79 L213.04,82.73 L213.63,82.68 L214.23,82.63 L214.83,82.58 L215.42,82.53 L216.02,82.48 L216.62,82.43 L217.22,82.38 L217.81,82.33 L218.41,82.28 L219.01,82.23 L219.60,82.18 L220.20,82.13 L220.80,82.08 L221.39,82.04 L221.99,81.99 L222.59,81.94 L223.19,81.89 L223.78,81.85 L224.38,81.80 L224.98,81.75 L225.57,81.71 L226.17,81.66 L226.77,81.62 L227.36,81.57 L227.96,81.53 L228.56,81.48 L229.16,81.44 L229.75,81.40 L230.35,81.35 L230.95,81.31 L231.54,81.27 L232.14,81.22 L232.74,81.18 L233.33,81.14 L233.93,81.10 L234.53,81.05 L235.13,81.01 L235.72,80.97 L236.32,80.93 L236.92,80.89 L237.51,80.85 L238.11,80.81 L238.71,80.77 L239.30,80.73 L239.90,80.69 L240.50,80.65 L241.10,80.61 L241.69,80.57 L242.29,80.53 L242.89,80.49 L243.48,80.45 L244.08,80.42 L244.68,80.38 L245.27,80.34 L245.87,80.30 L246.47,80.27 L247.07,80.23 L247.66,80.19 L248.26,80.15 L248.86,80.12 L249.45,80.08 L250.05,80.05 L250.65,80.01 L251.24,79.97 L251.84,79.94 L252.44,79.90 L253.04,79.87 L253.63,79.83 L254.23,79.80 L254.83,79.76 L255.42,79.73 L256.02,79.69 L256.62,79.66 L257.21,79.63 L257.81,79.59 L258.41,79.56 L259.01,79.53 L259.60,79.49 L260.20,79.46 L260.80,79.43 L261.39,79.39 L261.99,79.36 L262.59,79.33 L263.18,79.30 L263.78,79.26 L264.38,79.23 L264.98,79.20 L265.57,79.17 L266.17,79.14 L266.77,79.11 L267.36,79.08 L267.96,79.05 L268.56,79.01 L269.15,78.98 L269.75,78.95 L270.35,78.92 L270.94,78.89 L271.54,78.86 L272.14,78.83 L272.74,78.80 L273.33,78.77 L273.93,78.74 L274.53,78.71 L275.12,78.69 L275.72,78.66 L276.32,78.63 L276.91,78.60 L277.51,78.57 L278.11,78.54 L278.71,78.51 L279.30,78.49 L279.90,78.46 L280.50,78.43 L281.09,78.40 L281.69,78.37 L282.29,78.35 L282.88,78.32 L283.48,78.29 L284.08,78.27 L284.68,78.24 L285.27,78.21 L285.87,78.18 L286.47,78.16 L287.06,78.13 L287.66,78.10 L288.26,78.08 L288.85,78.05 L289.45,78.03 L290.05,78.00 L290.65,77.97 L291.24,77.95 L291.84,77.92 L292.44,77.90 L293.03,77.87 L293.63,77.85 L294.23,77.82 L294.82,77.80 L295.42,77.77 L296.02,77.75 L296.62,77.72 L297.21,77.70 L297.81,77.67 L298.41,77.65 L299.00,77.63 L299.60,77.60 L300.20,77.58 L300.79,77.55 L301.39,77.53 L301.99,77.51 L302.59,77.48 L303.18,77.46 L303.78,77.44 L304.38,77.41 L304.97,77.39 L305.57,77.37 L306.17,77.34 L306.76,77.32 L307.36,77.30 L307.96,77.28 L308.56,77.25 L309.15,77.23 L309.75,77.21 L310.35,77.19 L310.94,77.16 L311.54,77.14 L312.14,77.12 L312.73,77.10 L313.33,77.08 L313.93,77.05 L314.53,77.03 L315.12,77.01 L315.72,76.99 L316.32,76.97 L316.91,76.95 L317.51,76.93 L318.11,76.90 L318.70,76.88 L319.30,76.86 L319.90,76.84 L320.50,76.82 L321.09,76.80 L321.69,76.78 L322.29,76.76 L322.88,76.74 L323.48,76.72 L324.08,76.70 L324.67,76.68 L325.27,76.66 L325.87,76.64 L326.46,76.62 L327.06,76.60 L327.66,76.58 L328.26,76.56 L328.85,76.54 L329.45,76.52 L330.05,76.50 L330.64,76.48 L331.24,76.46 L331.84,76.44 L332.43,76.42 L333.03,76.40 L333.63,76.39 L334.23,76.37 L334.82,76.35 L335.42,76.33 L336.02,76.31 L336.61,76.29 L337.21,76.27 L337.81,76.25 L338.40,76.24 L339.00,76.22 L339.60,76.20 L340.20,76.18 L340.79,76.16 L341.39,76.15 L341.99,76.13 L342.58,76.11 L343.18,76.09 L343.78,76.07 L344.37,76.06 L344.97,76.04 L345.57,76.02 L346.17,76.00 L346.76,75.99 L347.36,75.97 L347.96,75.95 L348.55,75.93 L349.15,75.92 L349.75,75.90 L350.34,75.88 L350.94,75.87 L351.54,75.85 L352.14,75.83 L352.73,75.82 L353.33,75.80 L353.93,75.78 L354.52,75.77 L355.12,75.75 L355.72,75.73 L356.31,75.72 L356.91,75.70 L357.51,75.68 L358.11,75.67 L358.70,75.65 L359.30,75.63 L359.90,75.62 L360.49,75.60 L361.09,75.59 L361.69,75.57 L362.28,75.55 L362.88,75.54 L363.48,75.52 L364.08,75.51 L364.67,75.49 L365.27,75.48 L365.87,75.46 L366.46,75.45 L367.06,75.43 L367.66,75.41 L368.25,75.40 L368.85,75.38 L369.45,75.37 L370.05,75.35 L370.64,75.34 L371.24,75.32 L371.84,75.31 L372.43,75.29 L373.03,75.28 L373.63,75.26 L374.22,75.25 L374.82,75.23 L375.42,75.22 L376.02,75.21 L376.61,75.19 L377.21,75.18 L377.81,75.16 L378.40,75.15 L379.00,75.13" stroke="#ff0000" stroke-width="1.45"/>
</g>
<g stroke-width="0.85" stroke-linecap="square"><line x1="35.8" y1="13.5" x2="379.0" y2="13.5" stroke="#808080"/><line x1="35.8" y1="226.5" x2="379.0" y2="226.5" stroke="#555"/><line x1="35.8" y1="13.5" x2="35.8" y2="226.5" stroke="#a0a0a0"/><line x1="379.0" y1="13.5" x2="379.0" y2="226.5" stroke="#a0a0a0"/></g>
<g stroke="#555" stroke-width="0.85"><line x1="35.80" y1="226.50" x2="35.80" y2="222.00"/><line x1="35.80" y1="13.50" x2="35.80" y2="18.00"/><line x1="49.53" y1="226.50" x2="49.53" y2="223.80"/><line x1="49.53" y1="13.50" x2="49.53" y2="16.20"/><line x1="63.26" y1="226.50" x2="63.26" y2="223.80"/><line x1="63.26" y1="13.50" x2="63.26" y2="16.20"/><line x1="76.98" y1="226.50" x2="76.98" y2="223.80"/><line x1="76.98" y1="13.50" x2="76.98" y2="16.20"/><line x1="90.71" y1="226.50" x2="90.71" y2="223.80"/><line x1="90.71" y1="13.50" x2="90.71" y2="16.20"/><line x1="104.44" y1="226.50" x2="104.44" y2="222.00"/><line x1="104.44" y1="13.50" x2="104.44" y2="18.00"/><line x1="118.17" y1="226.50" x2="118.17" y2="223.80"/><line x1="118.17" y1="13.50" x2="118.17" y2="16.20"/><line x1="131.90" y1="226.50" x2="131.90" y2="223.80"/><line x1="131.90" y1="13.50" x2="131.90" y2="16.20"/><line x1="145.62" y1="226.50" x2="145.62" y2="223.80"/><line x1="145.62" y1="13.50" x2="145.62" y2="16.20"/><line x1="159.35" y1="226.50" x2="159.35" y2="223.80"/><line x1="159.35" y1="13.50" x2="159.35" y2="16.20"/><line x1="173.08" y1="226.50" x2="173.08" y2="222.00"/><line x1="173.08" y1="13.50" x2="173.08" y2="18.00"/><line x1="186.81" y1="226.50" x2="186.81" y2="223.80"/><line x1="186.81" y1="13.50" x2="186.81" y2="16.20"/><line x1="200.54" y1="226.50" x2="200.54" y2="223.80"/><line x1="200.54" y1="13.50" x2="200.54" y2="16.20"/><line x1="214.26" y1="226.50" x2="214.26" y2="223.80"/><line x1="214.26" y1="13.50" x2="214.26" y2="16.20"/><line x1="227.99" y1="226.50" x2="227.99" y2="223.80"/><line x1="227.99" y1="13.50" x2="227.99" y2="16.20"/><line x1="241.72" y1="226.50" x2="241.72" y2="222.00"/><line x1="241.72" y1="13.50" x2="241.72" y2="18.00"/><line x1="255.45" y1="226.50" x2="255.45" y2="223.80"/><line x1="255.45" y1="13.50" x2="255.45" y2="16.20"/><line x1="269.18" y1="226.50" x2="269.18" y2="223.80"/><line x1="269.18" y1="13.50" x2="269.18" y2="16.20"/><line x1="282.90" y1="226.50" x2="282.90" y2="223.80"/><line x1="282.90" y1="13.50" x2="282.90" y2="16.20"/><line x1="296.63" y1="226.50" x2="296.63" y2="223.80"/><line x1="296.63" y1="13.50" x2="296.63" y2="16.20"/><line x1="310.36" y1="226.50" x2="310.36" y2="222.00"/><line x1="310.36" y1="13.50" x2="310.36" y2="18.00"/><line x1="324.09" y1="226.50" x2="324.09" y2="223.80"/><line x1="324.09" y1="13.50" x2="324.09" y2="16.20"/><line x1="337.82" y1="226.50" x2="337.82" y2="223.80"/><line x1="337.82" y1="13.50" x2="337.82" y2="16.20"/><line x1="351.54" y1="226.50" x2="351.54" y2="223.80"/><line x1="351.54" y1="13.50" x2="351.54" y2="16.20"/><line x1="365.27" y1="226.50" x2="365.27" y2="223.80"/><line x1="365.27" y1="13.50" x2="365.27" y2="16.20"/><line x1="379.00" y1="226.50" x2="379.00" y2="222.00"/><line x1="379.00" y1="13.50" x2="379.00" y2="18.00"/><line x1="35.80" y1="226.50" x2="40.30" y2="226.50"/><line x1="379.00" y1="226.50" x2="374.50" y2="226.50"/><line x1="35.80" y1="215.85" x2="38.50" y2="215.85"/><line x1="379.00" y1="215.85" x2="376.30" y2="215.85"/><line x1="35.80" y1="205.20" x2="38.50" y2="205.20"/><line x1="379.00" y1="205.20" x2="376.30" y2="205.20"/><line x1="35.80" y1="194.55" x2="38.50" y2="194.55"/><line x1="379.00" y1="194.55" x2="376.30" y2="194.55"/><line x1="35.80" y1="183.90" x2="38.50" y2="183.90"/><line x1="379.00" y1="183.90" x2="376.30" y2="183.90"/><line x1="35.80" y1="173.25" x2="40.30" y2="173.25"/><line x1="379.00" y1="173.25" x2="374.50" y2="173.25"/><line x1="35.80" y1="162.60" x2="38.50" y2="162.60"/><line x1="379.00" y1="162.60" x2="376.30" y2="162.60"/><line x1="35.80" y1="151.95" x2="38.50" y2="151.95"/><line x1="379.00" y1="151.95" x2="376.30" y2="151.95"/><line x1="35.80" y1="141.30" x2="38.50" y2="141.30"/><line x1="379.00" y1="141.30" x2="376.30" y2="141.30"/><line x1="35.80" y1="130.65" x2="38.50" y2="130.65"/><line x1="379.00" y1="130.65" x2="376.30" y2="130.65"/><line x1="35.80" y1="120.00" x2="40.30" y2="120.00"/><line x1="379.00" y1="120.00" x2="374.50" y2="120.00"/><line x1="35.80" y1="109.35" x2="38.50" y2="109.35"/><line x1="379.00" y1="109.35" x2="376.30" y2="109.35"/><line x1="35.80" y1="98.70" x2="38.50" y2="98.70"/><line x1="379.00" y1="98.70" x2="376.30" y2="98.70"/><line x1="35.80" y1="88.05" x2="38.50" y2="88.05"/><line x1="379.00" y1="88.05" x2="376.30" y2="88.05"/><line x1="35.80" y1="77.40" x2="38.50" y2="77.40"/><line x1="379.00" y1="77.40" x2="376.30" y2="77.40"/><line x1="35.80" y1="66.75" x2="40.30" y2="66.75"/><line x1="379.00" y1="66.75" x2="374.50" y2="66.75"/><line x1="35.80" y1="56.10" x2="38.50" y2="56.10"/><line x1="379.00" y1="56.10" x2="376.30" y2="56.10"/><line x1="35.80" y1="45.45" x2="38.50" y2="45.45"/><line x1="379.00" y1="45.45" x2="376.30" y2="45.45"/><line x1="35.80" y1="34.80" x2="38.50" y2="34.80"/><line x1="379.00" y1="34.80" x2="376.30" y2="34.80"/><line x1="35.80" y1="24.15" x2="38.50" y2="24.15"/><line x1="379.00" y1="24.15" x2="376.30" y2="24.15"/><line x1="35.80" y1="13.50" x2="40.30" y2="13.50"/><line x1="379.00" y1="13.50" x2="374.50" y2="13.50"/></g>
<g filter="url(#gs)" stroke="#000" stroke-width="0.2"><g font-size="7.7" fill="#000"><text x="35.30" y="235.5" text-anchor="middle">0</text><text x="103.94" y="235.5" text-anchor="middle">1</text><text x="172.58" y="235.5" text-anchor="middle">2</text><text x="241.22" y="235.5" text-anchor="middle">3</text><text x="309.86" y="235.5" text-anchor="middle">4</text><text x="378.50" y="235.5" text-anchor="middle">5</text><text x="32.8" y="228.50" text-anchor="end">−2</text><text x="32.8" y="175.25" text-anchor="end">−1</text><text x="32.8" y="122.00" text-anchor="end">0</text><text x="32.8" y="68.75" text-anchor="end">1</text><text x="32.8" y="15.50" text-anchor="end">2</text></g>
<text x="207.3" y="6.8" font-size="7.5" text-anchor="middle">IV</text>
<text x="207" y="250.8" font-size="15" font-style="italic" text-anchor="middle">r</text>
<g transform="translate(14.7,125) rotate(-90)"><text x="0" y="0" font-size="7.5" font-style="italic">g<tspan dx="0.4" dy="-4.0" font-size="5" stroke="none" fill="#111">rr</tspan></text></g>
</g>
<rect x="221.5" y="34.5" width="132.5" height="40.9" fill="#fff"/><path d="M354,34.5 H221.5 V75.4 H354" fill="none" stroke="#e0e0e0" stroke-width="0.8"/><path d="M354,34.5 V75.4" fill="none" stroke="#f2f2f2" stroke-width="0.8"/>
<line x1="225.1" y1="44.5" x2="241" y2="44.5" stroke="#0000ff" stroke-width="1.8" stroke-dasharray="6.4 3.5"/>
<line x1="225.1" y1="55.5" x2="245.4" y2="55.5" stroke="#0000ff" stroke-width="1.9"/>
<line x1="225.2" y1="68.35" x2="245.6" y2="68.35" stroke="#ff3838" stroke-width="0.7"/>
<g filter="url(#gs)"><g font-size="7.5" fill="#000" stroke="#000" stroke-width="0.1">
<text x="247.95" y="44.25">M=0.4 Q=0.9,C=0,<tspan font-style="italic">C</tspan><tspan dy="1.5" font-size="5.9">2</tspan><tspan dy="-1.5">=0</tspan></text>
<text x="247.95" y="56.85">M=0.4,Q=0.9,C=0.2,<tspan font-style="italic">C</tspan><tspan dy="1.5" font-size="5.9">2</tspan><tspan dy="-1.5">=0</tspan></text>
<text x="247.95" y="69.4">M=0.4,Q=0.9,C=0.2,<tspan font-style="italic">C</tspan><tspan dy="1.5" font-size="5.9">2</tspan><tspan dy="-1.5">=0.1</tspan></text>
</g>
</g>
</svg>
</body></html>
